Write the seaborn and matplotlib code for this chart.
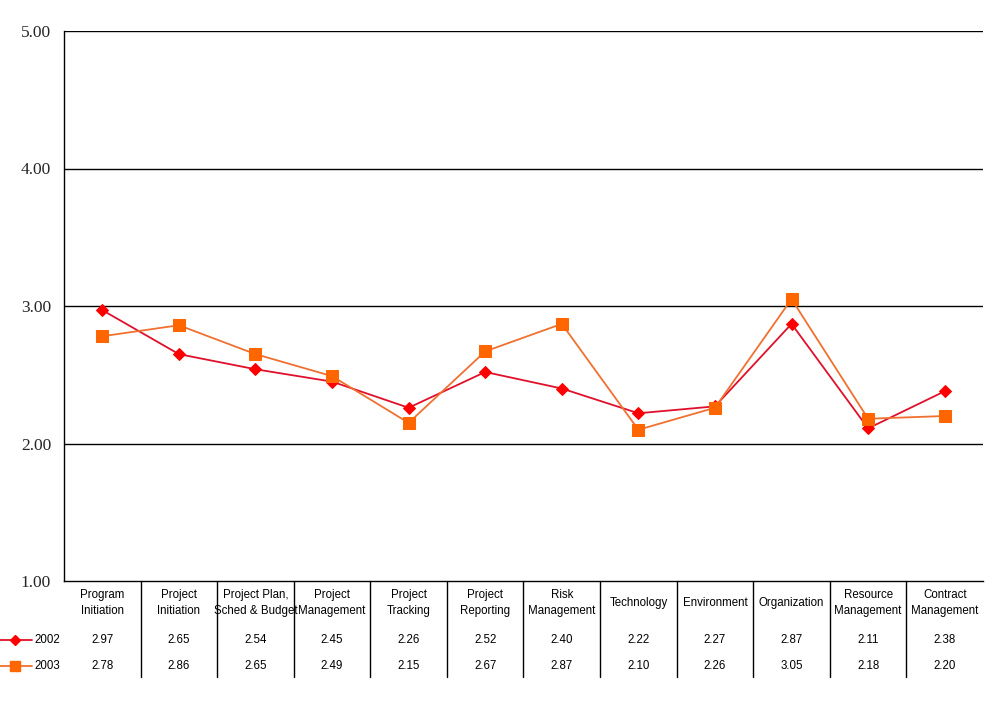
import numpy as np
import pandas as pd
import matplotlib
matplotlib.use("Agg")
import matplotlib.pyplot as plt
import matplotlib.transforms as mtransforms
from matplotlib import font_manager
from matplotlib.lines import Line2D
import seaborn as sns

# --- data ---
categories = ["Program\nInitiation", "Project\nInitiation", "Project Plan,\nSched & Budget",
              "Project\nManagement", "Project\nTracking", "Project\nReporting",
              "Risk\nManagement", "Technology", "Environment", "Organization",
              "Resource\nManagement", "Contract\nManagement"]
years = ["2002", "2003"]
values_2002 = [2.97, 2.65, 2.54, 2.45, 2.26, 2.52, 2.40, 2.22, 2.27, 2.87, 2.11, 2.38]
values_2003 = [2.78, 2.86, 2.65, 2.49, 2.15, 2.67, 2.87, 2.10, 2.26, 3.05, 2.18, 2.20]
y_ticks = [1.00, 2.00, 3.00, 4.00, 5.00]

df = pd.DataFrame({
    "pos": list(range(len(categories))) * 2,
    "score": values_2002 + values_2003,
    "year": [years[0]] * len(categories) + [years[1]] * len(categories),
})

sns.set_style("white")
installed = {f.name for f in font_manager.fontManager.ttflist}
table_font = "Liberation Sans Narrow" if "Liberation Sans Narrow" in installed else "Liberation Sans"
table_size = 9 if table_font == "Liberation Sans Narrow" else 8.3
plt.rcParams['font.family'] = [table_font, 'DejaVu Sans']

line_colors = {"2002": "#e0102a", "2003": "#f07030"}
marker_colors = {"2002": "#ff0000", "2003": "#ff6600"}
markers = {"2002": "D", "2003": "s"}
msize = {"2002": 6, "2003": 8}

fig = plt.figure(figsize=(10.01, 7.02), dpi=100)
ax = fig.add_axes([64 / 1001, 121 / 702, 919 / 1001, 550 / 702])

for yr in years:
    sub = df[df["year"] == yr]
    sns.lineplot(data=sub, x="pos", y="score", ax=ax, color=line_colors[yr],
                 linewidth=1.3, marker=markers[yr], markersize=msize[yr],
                 markerfacecolor=marker_colors[yr], markeredgecolor=marker_colors[yr],
                 legend=False)

ax.set_xlim(-0.5, len(categories) - 0.5)
ax.set_ylim(1, 5)
ax.set_yticks(y_ticks)
ax.set_yticklabels([f"{v:.2f}" for v in y_ticks], fontfamily="Liberation Serif", fontsize=12.5)
ax.tick_params(axis="y", direction="out", length=4.3, width=1, color="black", pad=5)
ax.set_xticks([])
ax.set_xlabel("")
ax.set_ylabel("")
for yv in y_ticks[1:]:
    ax.axhline(yv, color="black", linewidth=1, zorder=0)
ax.spines["top"].set_visible(False)
ax.spines["right"].set_visible(False)
for s in ["left", "bottom"]:
    ax.spines[s].set_color("black")
    ax.spines[s].set_linewidth(1)

# --- data table below the plot ---
trans = mtransforms.blended_transform_factory(ax.transData, fig.transFigure)
def fy(py):
    return 1 - py / 702

for i in range(1, len(categories)):
    ax.add_line(Line2D([i - 0.5, i - 0.5], [fy(581), fy(677)], transform=trans,
                       color="black", linewidth=1, clip_on=False))

for i, cat in enumerate(categories):
    ax.text(i, fy(603), cat, transform=trans, ha="center", va="center",
            fontsize=table_size, linespacing=1.5, color="black")
    ax.text(i, fy(640), f"{values_2002[i]:.2f}", transform=trans, ha="center",
            va="center", fontsize=table_size, color="black")
    ax.text(i, fy(666), f"{values_2003[i]:.2f}", transform=trans, ha="center",
            va="center", fontsize=table_size, color="black")

for yr, py in zip(years, [640, 666]):
    fig.add_artist(Line2D([0, 32 / 1001], [fy(py), fy(py)], color=line_colors[yr],
                          linewidth=1.3))
    fig.add_artist(Line2D([15 / 1001], [fy(py)], marker=markers[yr], markersize=msize[yr] - 1,
                          color=marker_colors[yr], linestyle="none"))
    fig.text(34 / 1001, fy(py), yr, ha="left", va="center", fontsize=table_size, color="black")

fig.savefig("out.png", dpi=100, facecolor="white")
